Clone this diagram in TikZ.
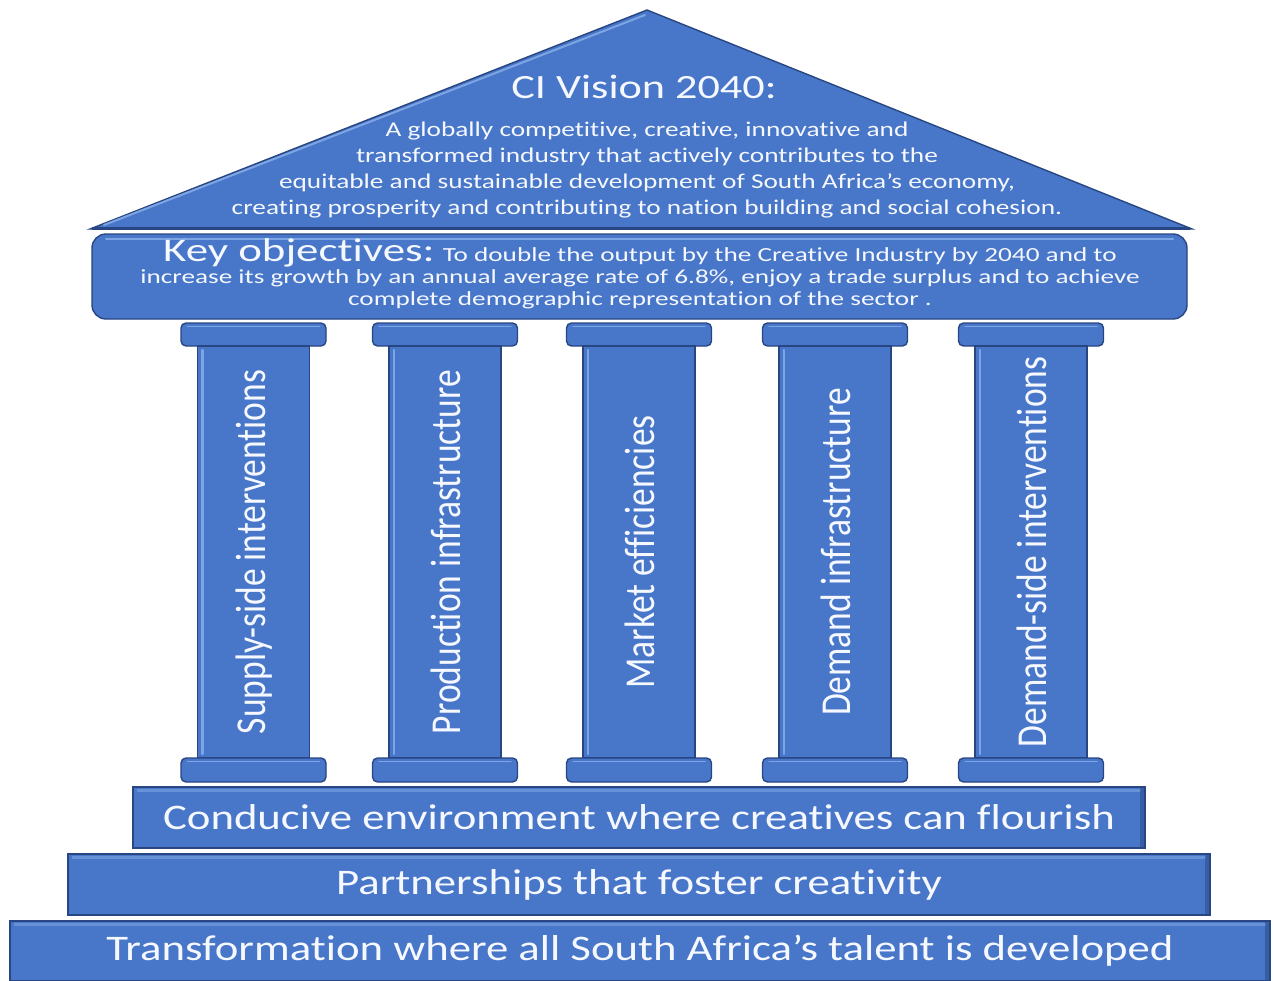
\documentclass[tikz,border=0pt]{standalone}
\usepackage{fontspec}
\defaultfontfeatures{}
\setmainfont{Carlito}[Ligatures={NoCommon}]
\definecolor{pblue}{RGB}{72,118,200}
\definecolor{pedge}{RGB}{40,70,130}
\definecolor{plight}{RGB}{125,165,228}
\definecolor{ptext}{RGB}{245,248,255}
\begin{document}
\begin{tikzpicture}[x=1pt,y=-1pt,
  blk/.style={fill=pblue, draw=pedge, line width=1.4pt},
  hil/.style={draw=plight, line width=2pt, line cap=round},
  bar/.style={blk, inner sep=0pt, text=ptext, font=\fontsize{36}{40}\selectfont,
     path picture={\fill[plight,opacity=0.6] ([xshift=4pt,yshift=-2pt]path picture bounding box.north west) rectangle ([xshift=-4pt,yshift=-5pt]path picture bounding box.north east);
                   \fill[pedge,opacity=0.5] ([xshift=-5pt]path picture bounding box.north east) rectangle (path picture bounding box.south east);}},
  ptxt/.style={rotate=90, text=ptext, inner sep=0pt, font=\fontsize{35.5}{38}\selectfont},
  wtxt/.style={text=ptext, align=center, inner sep=0pt, transform shape}]
\useasboundingbox (0,0) rectangle (1274,980);

% roof
\draw[blk] (647,10) -- (1192,229) -- (90,229) -- cycle;
\draw[hil] (104,225) -- (645,15);
\draw[pedge, line width=3pt] (92,228) -- (1190,228);
\node[wtxt, xscale=1.3, font=\fontsize{34}{38}\selectfont] (vision) at (644,87) {CI Vision 2040:};
\node[wtxt, xscale=1.3, font=\fontsize{21}{26}\selectfont] (visiontxt) at (647,170)
  {A globally competitive, creative, innovative and\\
   transformed industry that actively contributes to the\\
   equitable and sustainable development of South Africa's economy,\\
   creating prosperity and contributing to nation building and social cohesion.};

% key objectives
\draw[blk, rounded corners=14pt] (92,234) rectangle (1187,319);
\draw[hil] (106,239) -- (1173,239);
\node[wtxt, xscale=1.36, font=\fontsize{20}{22}\selectfont] (keyobj) at (640,274)
  {{\fontsize{33}{22}\selectfont Key objectives:} To double the output by the Creative Industry by 2040 and to\\
   increase its growth by an annual average rate of 6.8\%, enjoy a trade surplus and to achieve\\
   complete demographic representation of the sector .};

% pillars
\foreach \cx/\lab/\nm in {253.5/Supply-side interventions/p1, 445/Production infrastructure/p2, 639/Market efficiencies/p3, 835/Demand infrastructure/p4, 1031/Demand-side interventions/p5}{
  \draw[blk, rounded corners=5pt] (\cx-72.5,323) rectangle (\cx+72.5,346);
  \draw[hil, line width=1.5pt] (\cx-66,326.5) -- (\cx+66,326.5);
  \draw[blk] (\cx-56,346) rectangle (\cx+56,758);
  \draw[hil, line width=2.5pt] (\cx-51,350) -- (\cx-51,754);
  \draw[blk, rounded corners=5pt] (\cx-72.5,758) rectangle (\cx+72.5,782);
  \draw[hil, line width=1.5pt] (\cx-66,761.5) -- (\cx+66,761.5);
  \node[ptxt] (\nm) at (\cx+1,552) {\scalebox{1}[1.2]{\lab}};
}

% steps
\node[bar, minimum width=1012pt, minimum height=61pt] (conducive) at (639,817.5) {\scalebox{1.243}[1]{Conducive environment where creatives can flourish}};
\node[bar, minimum width=1142pt, minimum height=61pt] (partner) at (639,884.5) {\scalebox{1.243}[1]{Partnerships that foster creativity}};
\node[bar, minimum width=1260pt, minimum height=60pt] (transform) at (640,951) {\scalebox{1.243}[1]{Transformation where all South Africa’s talent is developed}};
\end{tikzpicture}
\end{document}
